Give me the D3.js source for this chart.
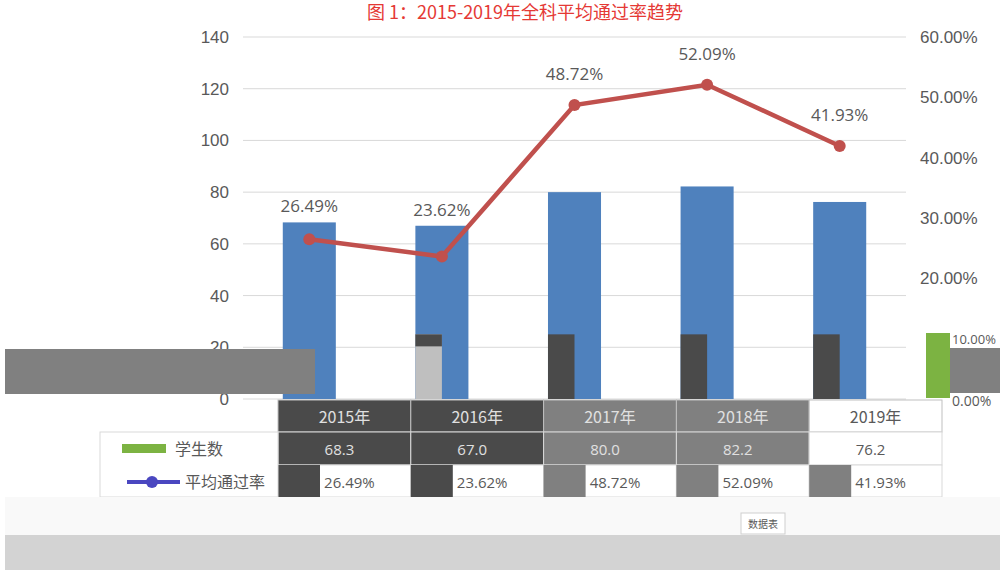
<!DOCTYPE html>
<html>
<head>
<meta charset="utf-8">
<script src="https://cdn.jsdelivr.net/npm/d3@7"></script>
<style>
  body { margin: 0; background: #fff; }
  svg { display: block; font-family: "Open Sans", "Noto Sans CJK SC", sans-serif; }
</style>
</head>
<body>
<div id="chart"></div>
<script>
var years = ['2015年', '2016年', '2017年', '2018年', '2019年'];
var counts = [68.3, 67.0, 80.0, 82.2, 76.2];
var countText = ['68.3', '67.0', '80.0', '82.2', '76.2'];
var rates = [26.49, 23.62, 48.72, 52.09, 41.93];
var leftTicks = [0, 20, 40, 60, 80, 100, 120, 140];
var rightTicks = [0, 10, 20, 30, 40, 50, 60];
var seriesNames = ['学生数', '平均通过率'];
var headFill = ['#4a4a4a', '#4a4a4a', '#808080', '#808080', '#ffffff'];

var width = 1000, height = 570;
var plotLeft = 243, plotRight = 906, plotTop = 37, plotBottom = 399;

var svg = d3.select('#chart').append('svg')
  .attr('width', width).attr('height', height);

var x = d3.scaleBand().domain(years).range([plotLeft, plotRight]).paddingInner(0.6).paddingOuter(0.3);
var xCol = d3.scaleBand().domain(years).range([278, 942]);
var y = d3.scaleLinear().domain([0, 140]).range([plotBottom, plotTop]);
var y2 = d3.scaleLinear().domain([0, 60]).range([plotBottom, plotTop]);

// title
svg.append('text')
  .attr('x', 525).attr('y', 19)
  .attr('text-anchor', 'middle')
  .attr('fill', '#e53935')
  .style('font-family', '"Noto Sans CJK SC", sans-serif')
  .style('font-size', '18px')
  .text('图 1：2015-2019年全科平均通过率趋势');

// gridlines
svg.append('g').selectAll('line').data(leftTicks).enter().append('line')
  .attr('x1', plotLeft).attr('x2', plotRight)
  .attr('y1', function(d) { return y(d); }).attr('y2', function(d) { return y(d); })
  .attr('stroke', '#d9d9d9').attr('stroke-width', 1);

// left axis
var yAxis = d3.axisLeft(y).tickValues(leftTicks).tickSize(0).tickPadding(14);
var gl = svg.append('g').attr('transform', 'translate(' + plotLeft + ',0)').call(yAxis);
gl.select('.domain').remove();
gl.selectAll('text').attr('fill', '#595959').style('font-size', '17px');

// right axis
var y2Axis = d3.axisRight(y2).tickValues(rightTicks.filter(function(d) { return d >= 20; }))
  .tickSize(0).tickPadding(14)
  .tickFormat(function(d) { return d.toFixed(2) + '%'; });
var gr = svg.append('g').attr('transform', 'translate(' + plotRight + ',0)').call(y2Axis);
gr.select('.domain').remove();
gr.selectAll('text').attr('fill', '#595959').style('font-size', '17px');

// bars
svg.append('g').selectAll('rect').data(counts).enter().append('rect')
  .attr('x', function(d, i) { return x(years[i]); })
  .attr('width', x.bandwidth())
  .attr('y', function(d) { return y(d); })
  .attr('height', function(d) { return y(0) - y(d); })
  .attr('fill', '#4f81bd');

// dark blocks inside bars
svg.append('g').selectAll('rect').data(counts.slice(1)).enter().append('rect')
  .attr('x', function(d, i) { return x(years[i + 1]); })
  .attr('width', x.bandwidth() / 2)
  .attr('y', y(25)).attr('height', y(0) - y(25))
  .attr('fill', function(d, i) { return i === 0 ? '#bfbfbf' : '#4a4a4a'; });
svg.append('rect').attr('x', x(years[1])).attr('width', x.bandwidth() / 2)
  .attr('y', y(25)).attr('height', 12).attr('fill', '#4a4a4a');

// line
var line = d3.line()
  .x(function(d, i) { return x(years[i]) + x.bandwidth() / 2; })
  .y(function(d) { return y2(d); });
svg.append('path').datum(rates)
  .attr('d', line).attr('fill', 'none')
  .attr('stroke', '#c0504d').attr('stroke-width', 4.5);
svg.append('g').selectAll('circle').data(rates).enter().append('circle')
  .attr('cx', function(d, i) { return x(years[i]) + x.bandwidth() / 2; })
  .attr('cy', function(d) { return y2(d); })
  .attr('r', 6).attr('fill', '#c0504d');
// labels sit above the point, and above the bar when the point is inside it
svg.append('g').selectAll('text').data(rates).enter().append('text')
  .attr('x', function(d, i) { return x(years[i]) + x.bandwidth() / 2; })
  .attr('y', function(d, i) { return Math.min(y2(d) - 25, y(counts[i]) - 10); })
  .attr('text-anchor', 'middle')
  .attr('fill', '#595959').style('font-size', '17px')
  .text(function(d) { return d.toFixed(2) + '%'; });

// grey glitch blocks at the sides
svg.append('rect').attr('x', 5).attr('y', 349).attr('width', 310).attr('height', 45).attr('fill', '#808080');
svg.append('rect').attr('x', 926).attr('y', 333).attr('width', 24).attr('height', 65).attr('fill', '#7cb342');
svg.append('rect').attr('x', 950).attr('y', 348).attr('width', 50).attr('height', 45).attr('fill', '#808080');
svg.append('text').attr('x', 952).attr('y', 344).attr('fill', '#595959').style('font-size', '13px').text('10.00%');
svg.append('text').attr('x', 952).attr('y', 406).attr('fill', '#595959').style('font-size', '14px').text('0.00%');

// data table
var table = svg.append('g');
table.selectAll('rect.head').data(years).enter().append('rect')
  .attr('x', function(d) { return xCol(d); }).attr('y', 400)
  .attr('width', xCol.bandwidth()).attr('height', 32)
  .attr('fill', function(d, i) { return headFill[i]; })
  .attr('stroke', '#bfbfbf');
table.selectAll('text.head').data(years).enter().append('text')
  .attr('x', function(d) { return xCol(d) + xCol.bandwidth() / 2; }).attr('y', 423)
  .attr('text-anchor', 'middle')
  .attr('fill', function(d, i) { return i < 4 ? '#e0e0e0' : '#595959'; })
  .style('font-family', '"Noto Sans CJK SC", sans-serif').style('font-size', '16px')
  .text(function(d) { return d; });

table.selectAll('rect.r1').data(years).enter().append('rect')
  .attr('x', function(d) { return xCol(d); }).attr('y', 432)
  .attr('width', xCol.bandwidth()).attr('height', 33)
  .attr('fill', function(d, i) { return i < 4 ? headFill[i] : '#ffffff'; })
  .attr('stroke', '#d9d9d9');
table.selectAll('text.r1').data(countText).enter().append('text')
  .attr('x', function(d, i) { return xCol(years[i]) + xCol.bandwidth() / 2 - 5; }).attr('y', 455)
  .attr('text-anchor', 'middle')
  .attr('fill', function(d, i) { return i < 4 ? '#e0e0e0' : '#595959'; })
  .style('font-size', '15px')
  .text(function(d) { return d; });

table.selectAll('rect.r2').data(years).enter().append('rect')
  .attr('x', function(d) { return xCol(d); }).attr('y', 465)
  .attr('width', xCol.bandwidth()).attr('height', 32)
  .attr('fill', '#ffffff').attr('stroke', '#d9d9d9');
table.selectAll('rect.r2s').data(years).enter().append('rect')
  .attr('x', function(d) { return xCol(d); }).attr('y', 465)
  .attr('width', 42).attr('height', 32)
  .attr('fill', function(d, i) { return i < 2 ? '#4a4a4a' : '#808080'; });
table.selectAll('text.r2').data(rates).enter().append('text')
  .attr('x', function(d, i) { return xCol(years[i]) + xCol.bandwidth() / 2 + 5; }).attr('y', 488)
  .attr('text-anchor', 'middle')
  .attr('fill', '#595959').style('font-size', '15px')
  .text(function(d) { return d.toFixed(2) + '%'; });

// table legend column
table.append('rect').attr('x', 100).attr('y', 432).attr('width', 178).attr('height', 65)
  .attr('fill', '#fff').attr('stroke', '#d9d9d9');
table.append('rect').attr('x', 122).attr('y', 444).attr('width', 44).attr('height', 9).attr('fill', '#7cb342');
table.append('line').attr('x1', 127).attr('x2', 180).attr('y1', 482).attr('y2', 482)
  .attr('stroke', '#4a47c0').attr('stroke-width', 4);
table.append('circle').attr('cx', 152).attr('cy', 482).attr('r', 6).attr('fill', '#4a47c0');
table.selectAll('text.leg').data(seriesNames).enter().append('text')
  .attr('x', function(d, i) { return i === 0 ? 175 : 185; })
  .attr('y', function(d, i) { return i === 0 ? 455 : 488; })
  .attr('fill', '#595959')
  .style('font-family', '"Noto Sans CJK SC", sans-serif').style('font-size', '16px')
  .text(function(d) { return d; });

// bottom area
svg.append('rect').attr('x', 5).attr('y', 497).attr('width', 995).attr('height', 38).attr('fill', '#f9f9f9');
svg.append('rect').attr('x', 5).attr('y', 535).attr('width', 995).attr('height', 35).attr('fill', '#d3d3d3');
svg.append('rect').attr('x', 741).attr('y', 513).attr('width', 44).attr('height', 21)
  .attr('fill', '#fff').attr('stroke', '#cfcfcf');
svg.append('text').attr('x', 763).attr('y', 528).attr('text-anchor', 'middle')
  .attr('fill', '#595959').style('font-family', '"Noto Sans CJK SC", sans-serif').style('font-size', '10px')
  .text('数据表');
</script>
</body>
</html>
